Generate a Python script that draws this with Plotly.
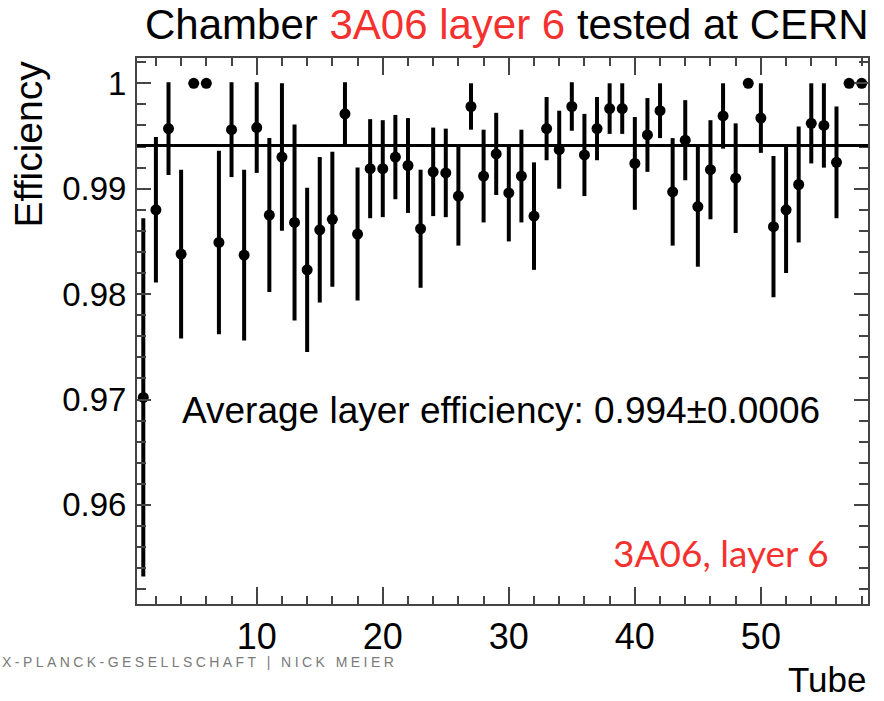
import plotly.graph_objects as go

tubes = list(range(1, 59))
efficiency = [
    0.9702, 0.9880, 0.9957, 0.9838, 1.0000, 1.0000, 0.9849, 0.9956, 0.9837, 0.9958,
    0.9875, 0.9930, 0.9868, 0.9823, 0.9861, 0.9871, 0.9971, 0.9857, 0.9919, 0.9919,
    0.9930, 0.9922, 0.9862, 0.9916, 0.9915, 0.9893, 0.9978, 0.9912, 0.9933, 0.9896,
    0.9912, 0.9874, 0.9957, 0.9937, 0.9978, 0.9932, 0.9957, 0.9976, 0.9976, 0.9924,
    0.9951, 0.9974, 0.9897, 0.9946, 0.9883, 0.9918, 0.9969, 0.9910, 1.0000, 0.9967,
    0.9864, 0.9880, 0.9904, 0.9962, 0.9960, 0.9925, 1.0000, 1.0000,
]
errors = [
    0.0170, 0.0069, 0.0044, 0.0080, 0.0, 0.0, 0.0087, 0.0045, 0.0081, 0.0043,
    0.0073, 0.0070, 0.0093, 0.0078, 0.0069, 0.0064, 0.0030, 0.0063, 0.0047, 0.0046,
    0.0040, 0.0045, 0.0056, 0.0042, 0.0042, 0.0047, 0.0022, 0.0044, 0.0039, 0.0046,
    0.0044, 0.0051, 0.0030, 0.0037, 0.0023, 0.0039, 0.0030, 0.0024, 0.0024, 0.0044,
    0.0035, 0.0026, 0.0051, 0.0038, 0.0057, 0.0047, 0.0031, 0.0052, 0.0, 0.0033,
    0.0067, 0.0060, 0.0055, 0.0038, 0.0040, 0.0053, 0.0, 0.0,
]
average = 0.9941
average_label = "Average layer efficiency: 0.994±0.0006"
x_ticks = [10, 20, 30, 40, 50]
y_ticks = [0.96, 0.97, 0.98, 0.99, 1.0]
y_tick_labels = ["0.96", "0.97", "0.98", "0.99", "1"]

FONT = "Arial, 'Liberation Sans', Helvetica, sans-serif"

fig = go.Figure()
fig.add_trace(go.Scatter(
    x=tubes, y=efficiency, mode="markers",
    marker=dict(color="black", size=11, symbol="circle"),
    error_y=dict(type="data", array=errors, visible=True, color="black",
                 thickness=4, width=0),
    showlegend=False,
))

fig.add_shape(type="line", xref="paper", x0=0, x1=1, yref="y", y0=average, y1=average,
              line=dict(color="black", width=3), layer="above")

axis_common = dict(
    showgrid=False, zeroline=False, showline=True, linecolor="#444", linewidth=2,
    mirror="ticks", ticks="inside", tickcolor="#444", tickwidth=2,
)

fig.update_xaxes(
    range=[0.5, 58.5], tickmode="array", tickvals=x_ticks,
    ticktext=[str(v) for v in x_ticks], ticklen=17,
    tickfont=dict(family=FONT, size=36, color="black"),
    minor=dict(dtick=2, tick0=0, ticks="inside", ticklen=8, tickcolor="#444", tickwidth=2),
    **axis_common,
)
fig.update_yaxes(
    range=[0.9506, 1.0024], tickmode="array", tickvals=y_ticks, ticktext=y_tick_labels,
    ticklen=14, ticklabelstandoff=2,
    tickfont=dict(family=FONT, size=33, color="black"),
    minor=dict(dtick=0.002, tick0=0, ticks="inside", ticklen=9, tickcolor="#444", tickwidth=2),
    **axis_common,
)

fig.update_layout(
    width=884, height=701,
    margin=dict(l=137, r=16, t=58, b=97),
    paper_bgcolor="white", plot_bgcolor="white",
    font=dict(family=FONT, color="black"),
    annotations=[
        dict(text="Chamber <span style='color:#f5312f'>3A06 layer 6</span> tested at CERN",
             xref="paper", yref="paper", x=1, y=1, xanchor="right", yanchor="bottom",
             xshift=3, yshift=8, showarrow=False, font=dict(family=FONT, size=42, color="black")),
        dict(text=average_label, xref="paper", yref="paper",
             x=(180 - 137) / 731, y=(604 - 411) / 546, xanchor="left", yanchor="middle",
             showarrow=False, font=dict(family=FONT, size=37, color="black")),
        dict(text="3A06, layer 6", xref="paper", yref="paper",
             x=(831 - 137) / 731, y=(604 - 552) / 546, xanchor="right", yanchor="middle",
             showarrow=False, font=dict(family="Lato, Carlito, sans-serif", size=37, color="#f5312f")),
        dict(text="Efficiency", xref="paper", yref="paper", textangle=-90,
             x=(28 - 137) / 731, y=1, xanchor="center", yanchor="top",
             showarrow=False, font=dict(family=FONT, size=39, color="black")),
        dict(text="Tube", xref="paper", yref="paper",
             x=1, y=(604 - 679) / 546, xanchor="right", yanchor="middle",
             showarrow=False, font=dict(family=FONT, size=35, color="black")),
        dict(text="<span style='letter-spacing:3.45px'>X-PLANCK-GESELLSCHAFT | NICK MEIER</span>",
             xref="paper", yref="paper",
             x=(0 - 137) / 731, y=(604 - 662) / 546, xanchor="left", yanchor="middle",
             showarrow=False, font=dict(family=FONT, size=14, color="#7a7a7a")),
    ],
)

fig.write_html("out.html")
